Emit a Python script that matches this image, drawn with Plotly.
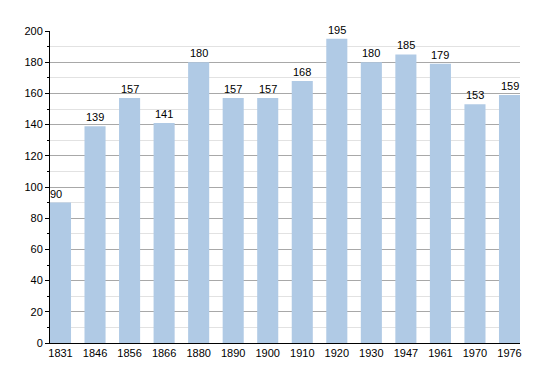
import plotly.graph_objects as go

years = ["1831", "1846", "1856", "1866", "1880", "1890", "1900", "1910", "1920", "1930", "1947", "1961", "1970", "1976"]
population = [90, 139, 157, 141, 180, 157, 157, 168, 195, 180, 185, 179, 153, 159]

fig = go.Figure()
fig.add_trace(go.Bar(
    x=list(range(len(years))),
    y=population,
    width=0.61,
    marker=dict(color="#b0cae5", line=dict(width=0)),
    hoverinfo="skip",
))

for i, v in enumerate(population):
    fig.add_annotation(
        x=i, y=v, text=str(v), showarrow=False,
        yanchor="bottom", yshift=1, xshift=(-5 if i == 0 else 0),
        font=dict(family="Liberation Sans, Arial, sans-serif", size=11, color="#000"),
    )

# page body has an 8px default margin, so offsets are compensated here
fig.update_layout(
    width=550, height=373,
    margin=dict(l=42, r=38, t=23, b=38, autoexpand=False),
    paper_bgcolor="white", plot_bgcolor="white",
    showlegend=False,
    font=dict(family="Liberation Sans, Arial, sans-serif", size=11, color="#000"),
    xaxis=dict(
        range=[-0.304, len(years) - 1 + 0.304],
        tickmode="array",
        tickvals=list(range(len(years))),
        ticktext=years,
        showgrid=False, zeroline=False,
        showline=True, linecolor="#000", linewidth=1,
        ticks="", ticklen=0,
        automargin=False,
        fixedrange=True,
    ),
    yaxis=dict(
        range=[0, 200],
        dtick=20, tick0=0,
        showgrid=True, gridcolor="#a8a8a8", gridwidth=1,
        zeroline=False,
        showline=True, linecolor="#000", linewidth=1,
        ticks="outside", ticklen=4, tickcolor="#000",
        minor=dict(dtick=10, showgrid=True, gridcolor="#e2e2e2", ticks="outside", ticklen=2, tickcolor="#000"),
        automargin=False,
        fixedrange=True,
    ),
)

fig.write_html("out.html")
